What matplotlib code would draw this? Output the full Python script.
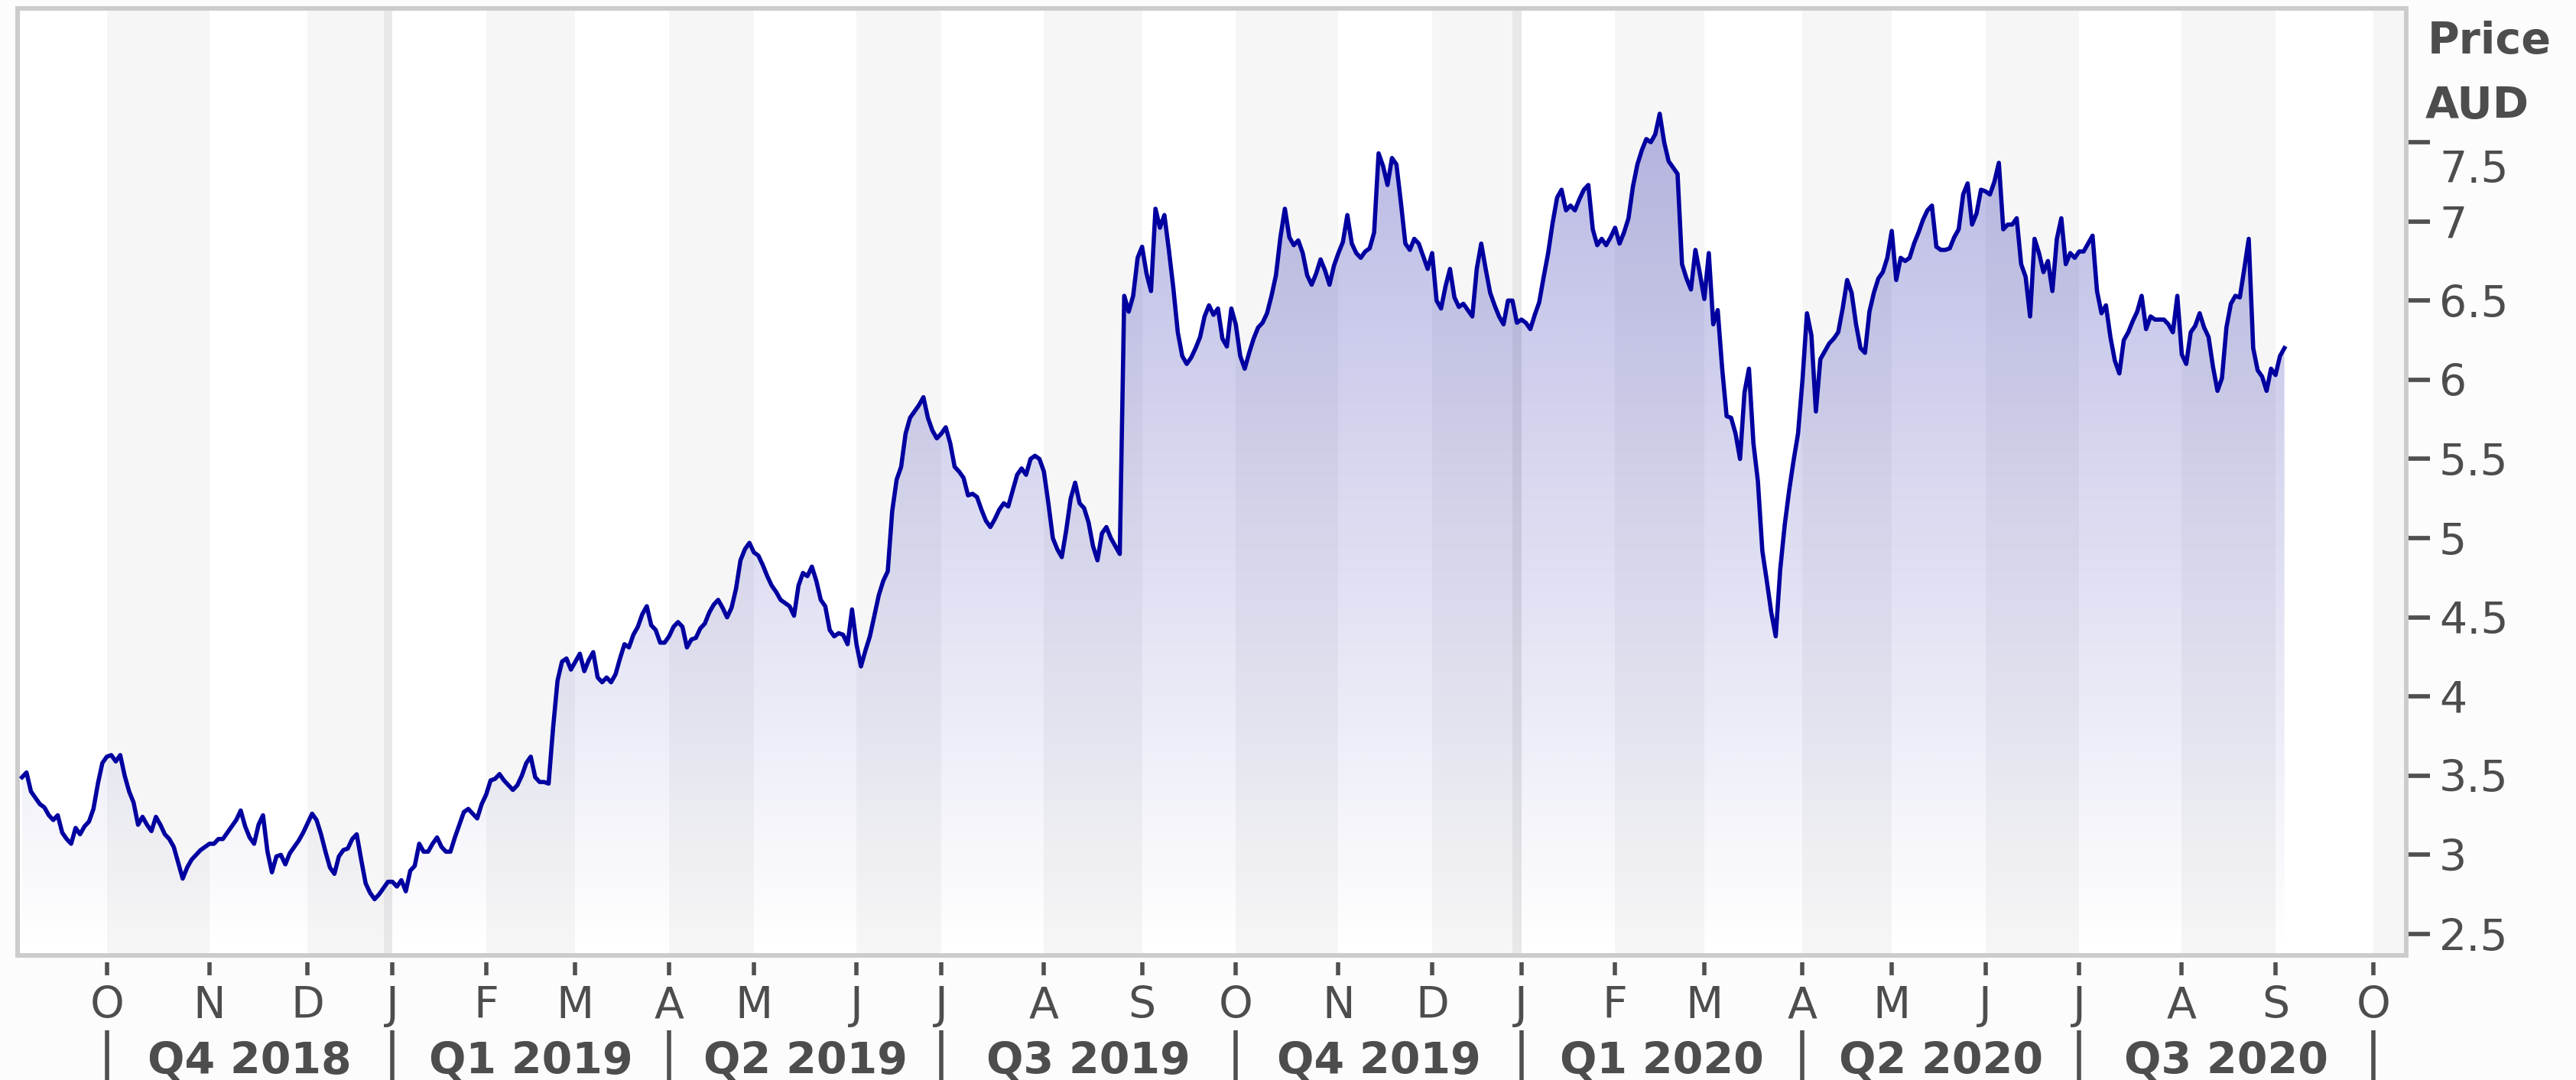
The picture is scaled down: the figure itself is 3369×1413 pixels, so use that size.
import numpy as np
import matplotlib
matplotlib.use('Agg')
import matplotlib.pyplot as plt
import matplotlib.transforms as mtransforms

W, H = 3369, 1413

# ASX trading calendar used for the x axis (one step per trading day)
origin_day = '2018-09-03'
first_day = '2018-09-04'
holidays = ['2018-12-25', '2018-12-26', '2019-01-01', '2019-01-28', '2019-04-19',
            '2019-04-22', '2019-04-25', '2019-06-10', '2019-12-25', '2019-12-26',
            '2020-01-01', '2020-01-27', '2020-04-10', '2020-04-13', '2020-06-08']

# daily closing prices, AUD
close_sep_2018 = [3.49, 3.52, 3.40, 3.36, 3.32, 3.30, 3.25, 3.22, 3.25, 3.14,
                  3.10, 3.07, 3.17, 3.13, 3.18, 3.21, 3.29, 3.45, 3.58]
close_q4_2018 = [3.62, 3.63, 3.59, 3.63, 3.50, 3.40, 3.33, 3.19, 3.24, 3.19,
                 3.15, 3.24, 3.19, 3.13, 3.10, 3.05, 2.95, 2.85, 2.92, 2.97,
                 3.00, 3.03, 3.05, 3.07, 3.07, 3.10, 3.10, 3.14, 3.18, 3.22,
                 3.28, 3.18, 3.11, 3.07, 3.19, 3.25, 3.02, 2.89, 2.99, 3.00,
                 2.94, 3.01, 3.05, 3.09, 3.14, 3.20, 3.26, 3.22, 3.13, 3.02,
                 2.92, 2.88, 2.99, 3.03, 3.04, 3.10, 3.13, 2.97, 2.82, 2.76,
                 2.72, 2.75, 2.79, 2.83]
close_q1_2019 = [2.83, 2.80, 2.84, 2.77, 2.90, 2.93, 3.07, 3.02, 3.02, 3.07,
                 3.11, 3.05, 3.02, 3.02, 3.11, 3.19, 3.27, 3.29, 3.26, 3.23,
                 3.32, 3.38, 3.47, 3.48, 3.51, 3.47, 3.44, 3.41, 3.44, 3.50,
                 3.58, 3.62, 3.49, 3.46, 3.46, 3.45, 3.80, 4.10, 4.22, 4.24,
                 4.17, 4.22, 4.27, 4.16, 4.23, 4.28, 4.12, 4.09, 4.12, 4.09,
                 4.14, 4.24, 4.33, 4.31, 4.39, 4.44, 4.52, 4.57, 4.45, 4.42,
                 4.34, 4.34]
close_q2_2019 = [4.38, 4.44, 4.47, 4.44, 4.31, 4.36, 4.37, 4.43, 4.46, 4.53,
                 4.58, 4.61, 4.56, 4.50, 4.56, 4.68, 4.86, 4.93, 4.97, 4.91,
                 4.89, 4.83, 4.76, 4.70, 4.66, 4.61, 4.59, 4.57, 4.51, 4.70,
                 4.78, 4.76, 4.82, 4.73, 4.61, 4.57, 4.42, 4.38, 4.40, 4.39,
                 4.33, 4.55, 4.33, 4.19, 4.29, 4.38, 4.51, 4.64, 4.73, 4.79,
                 5.17, 5.37, 5.45, 5.66, 5.76, 5.80, 5.84, 5.89, 5.76, 5.68,
                 5.63]
close_q3_2019 = [5.66, 5.70, 5.60, 5.45, 5.42, 5.38, 5.27, 5.28, 5.26, 5.18,
                 5.11, 5.07, 5.12, 5.18, 5.22, 5.20, 5.30, 5.40, 5.44, 5.40,
                 5.50, 5.52, 5.50, 5.42, 5.22, 5.00, 4.93, 4.88, 5.05, 5.25,
                 5.35, 5.22, 5.19, 5.10, 4.95, 4.86, 5.03, 5.07, 5.00, 4.95,
                 4.90, 6.53, 6.43, 6.53, 6.77, 6.84, 6.67, 6.56, 7.08, 6.96,
                 7.04, 6.82, 6.58, 6.30, 6.15, 6.10, 6.14, 6.20, 6.27, 6.40,
                 6.47, 6.41, 6.45, 6.26, 6.21, 6.45]
close_q4_2019 = [6.35, 6.15, 6.07, 6.17, 6.26, 6.33, 6.36, 6.42, 6.53, 6.66,
                 6.90, 7.08, 6.90, 6.85, 6.88, 6.80, 6.66, 6.60, 6.67, 6.76,
                 6.69, 6.60, 6.72, 6.80, 6.87, 7.04, 6.86, 6.80, 6.77, 6.81,
                 6.83, 6.93, 7.43, 7.35, 7.23, 7.40, 7.36, 7.12, 6.86, 6.82,
                 6.89, 6.86, 6.78, 6.70, 6.80, 6.50, 6.45, 6.59, 6.70, 6.52,
                 6.46, 6.48, 6.44, 6.40, 6.70, 6.86, 6.70, 6.55, 6.47, 6.40,
                 6.35, 6.50, 6.50, 6.36]
close_q1_2020 = [6.38, 6.36, 6.32, 6.41, 6.49, 6.65, 6.80, 6.99, 7.15, 7.20,
                 7.07, 7.10, 7.07, 7.14, 7.20, 7.23, 6.95, 6.85, 6.89, 6.85,
                 6.90, 6.96, 6.86, 6.93, 7.02, 7.22, 7.36, 7.45, 7.52, 7.50,
                 7.55, 7.68, 7.50, 7.38, 7.34, 7.30, 6.73, 6.64, 6.57, 6.82,
                 6.67, 6.51, 6.80, 6.35, 6.44, 6.07, 5.77, 5.76, 5.66, 5.50,
                 5.92, 6.07, 5.60, 5.36, 4.92, 4.73, 4.53, 4.38, 4.80, 5.08,
                 5.30, 5.49, 5.66]
close_q2_2020 = [6.00, 6.42, 6.28, 5.80, 6.13, 6.18, 6.23, 6.26, 6.30, 6.45,
                 6.63, 6.55, 6.35, 6.20, 6.17, 6.43, 6.55, 6.64, 6.68, 6.77,
                 6.94, 6.63, 6.77, 6.75, 6.77, 6.86, 6.93, 7.01, 7.07, 7.10,
                 6.84, 6.82, 6.82, 6.83, 6.90, 6.95, 7.17, 7.24, 6.98, 7.05,
                 7.20, 7.19, 7.17, 7.25, 7.37, 6.95, 6.98, 6.98, 7.02, 6.73,
                 6.65, 6.40, 6.89, 6.80, 6.68, 6.75, 6.56, 6.89, 7.02, 6.73,
                 6.80, 6.77]
close_q3_2020 = [6.81, 6.81, 6.86, 6.91, 6.56, 6.42, 6.47, 6.27, 6.12, 6.04,
                 6.25, 6.30, 6.37, 6.43, 6.53, 6.32, 6.40, 6.38, 6.38, 6.38,
                 6.35, 6.30, 6.53, 6.16, 6.10, 6.30, 6.34, 6.42, 6.33, 6.27,
                 6.08, 5.93, 6.01, 6.33, 6.48, 6.53, 6.52, 6.70, 6.89, 6.20,
                 6.06, 6.02, 5.93, 6.07, 6.03, 6.15, 6.20]

month_letters = list('ONDJFMAMJJASONDJFMAMJJASO')
quarter_names = ['Q4 2018', 'Q1 2019', 'Q2 2019', 'Q3 2019',
                 'Q4 2019', 'Q1 2020', 'Q2 2020', 'Q3 2020']
y_ticks = [2.5, 3, 3.5, 4, 4.5, 5, 5.5, 6, 6.5, 7, 7.5]
y_tick_labels = ['2.5', '3', '3.5', '4', '4.5', '5', '5.5', '6', '6.5', '7', '7.5']

X_MAX = 535.3
Y_MIN, Y_MAX = 2.365, 8.345
TEXT = '#4d4d4d'
FONT = 41


def trading_pos(days):
    return np.busday_count(origin_day, days, holidays=holidays)


def month_starts(first, last):
    months = np.arange(first, last, dtype='datetime64[M]')
    days = np.busday_offset(months.astype('datetime64[D]'), 0, roll='forward', holidays=holidays)
    return months, trading_pos(days)


close = np.concatenate([close_sep_2018, close_q4_2018, close_q1_2019, close_q2_2019,
                        close_q3_2019, close_q4_2019, close_q1_2020, close_q2_2020,
                        close_q3_2020])
dates = np.busday_offset(first_day, np.arange(len(close)), roll='forward', holidays=holidays)
x = trading_pos(dates)

fig = plt.figure(figsize=(W / 100, H / 100), dpi=100, facecolor='#fcfcfc')
ax = fig.add_axes([23 / W, 1 - 1250 / H, 3124 / W, 1239 / H])
ax.set_facecolor('white')

# alternating month bands and year separators
band_months, band_pos = month_starts('2018-09', '2020-12')
for i in range(len(band_months) - 1):
    month_no = band_months[i].astype(int) % 12 + 1
    if month_no % 2 == 0:
        ax.axvspan(band_pos[i], band_pos[i + 1], color='#f6f6f6', lw=0, zorder=0)
    if month_no == 1:
        ax.axvspan(band_pos[i] - 2, band_pos[i], color='#e8e8e8', lw=0, zorder=0.5)

# gradient fill under the price line
poly = ax.fill_between(x, close, Y_MIN, facecolor='none', edgecolor='none')
rgba = np.zeros((256, 1, 4))
rgba[..., 2] = 160 / 255
rgba[..., 3] = np.linspace(0, 0.31, 256)[:, None]
im = ax.imshow(rgba, extent=[0, X_MAX, Y_MIN, Y_MAX], origin='lower', aspect='auto',
               interpolation='bilinear', zorder=1)
im.set_clip_path(poly.get_paths()[0], transform=ax.transData)

ax.plot(x, close, color='#0000a0', lw=4.0, zorder=3)

ax.set_xlim(0, X_MAX)
ax.set_ylim(Y_MIN, Y_MAX)
ax.set_xticks([])
for sp in ax.spines.values():
    sp.set_color('#cccccc')
    sp.set_linewidth(4.3)

# price axis on the right
ax.yaxis.tick_right()
ax.set_yticks(y_ticks)
ax.set_yticklabels(y_tick_labels, fontsize=FONT, color=TEXT)
ax.tick_params(axis='y', length=22.3, width=4.1, color='#505050', pad=8.6)
for lab in ax.get_yticklabels():
    if lab.get_text() == '7.5':
        lab.set_transform(lab.get_transform() +
                          mtransforms.ScaledTranslation(0, -0.31, fig.dpi_scale_trans))
fig.text(3175 / W, 1 - 70 / H, 'Price', fontsize=FONT, fontweight='bold', color=TEXT,
         ha='left', va='baseline')
fig.text(3172 / W, 1 - 155 / H, 'AUD', fontsize=FONT, fontweight='bold', color=TEXT,
         ha='left', va='baseline')

# month letters and quarter labels below the plot
trans = mtransforms.blended_transform_factory(ax.transData, fig.transFigure)
months, month_pos = month_starts('2018-10', '2020-11')
for p, letter in zip(month_pos, month_letters):
    ax.plot([p, p], [1 - 1259 / H, 1 - 1276 / H], transform=trans, color='#505050',
            lw=4.0, solid_capstyle='butt', clip_on=False)
    ax.text(p, 1 - 1332 / H, letter, transform=trans, ha='center', va='baseline',
            fontsize=FONT, color=TEXT)

quarter_pos = [p for m, p in zip(months, month_pos) if (m.astype(int) % 12) % 3 == 0]
for p in quarter_pos:
    ax.plot([p, p], [1 - 1348 / H, 0], transform=trans, color='#505050',
            lw=4.0, solid_capstyle='butt', clip_on=False)
for name, a, b in zip(quarter_names, quarter_pos[:-1], quarter_pos[1:]):
    ax.text((a + b) / 2, 1 - 1405 / H, name, transform=trans, ha='center', va='baseline',
            fontsize=FONT, fontweight='bold', color=TEXT)

fig.savefig('out.png', dpi=100, facecolor=fig.get_facecolor())
